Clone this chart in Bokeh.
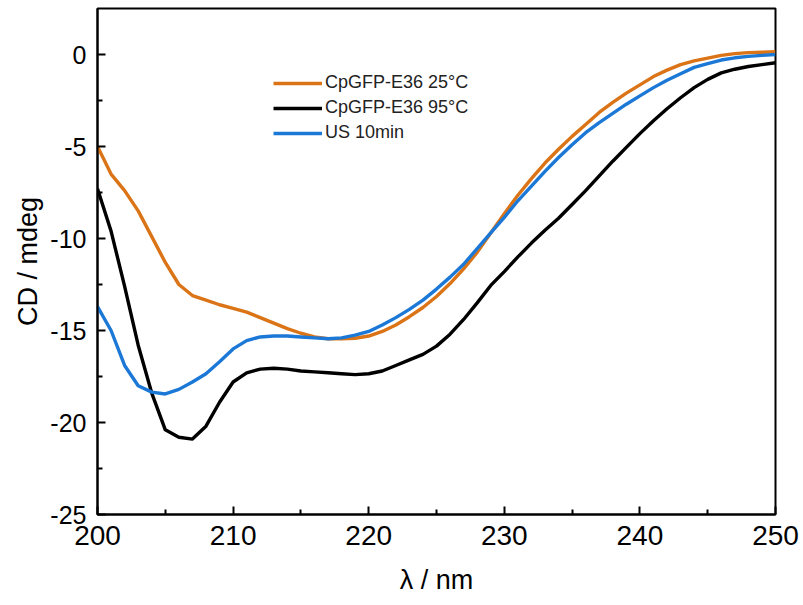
from bokeh.plotting import figure
from bokeh.models import Range1d, Legend, LegendItem, FixedTicker, PrintfTickFormatter
from bokeh.embed import file_html
from bokeh.resources import INLINE

wavelength = list(range(200, 251))

cd_25c = [-5.0, -6.5, -7.4, -8.5, -9.9, -11.3, -12.5, -13.1, -13.35, -13.6,
          -13.8, -14.0, -14.3, -14.6, -14.9, -15.15, -15.35, -15.45, -15.45, -15.42,
          -15.3, -15.05, -14.7, -14.25, -13.75, -13.15, -12.45, -11.65, -10.75, -9.7,
          -8.65, -7.65, -6.75, -5.9, -5.15, -4.45, -3.8, -3.15, -2.6, -2.1,
          -1.65, -1.2, -0.85, -0.55, -0.35, -0.2, -0.05, 0.05, 0.1, 0.12, 0.15]

cd_95c = [-7.3, -9.6, -12.6, -15.8, -18.4, -20.4, -20.8, -20.9, -20.2, -18.9,
          -17.8, -17.3, -17.1, -17.05, -17.1, -17.2, -17.25, -17.3, -17.35, -17.4,
          -17.35, -17.2, -16.9, -16.6, -16.3, -15.85, -15.2, -14.4, -13.5, -12.55,
          -11.8, -11.0, -10.25, -9.55, -8.9, -8.15, -7.4, -6.6, -5.8, -5.05,
          -4.3, -3.6, -2.95, -2.35, -1.8, -1.35, -1.0, -0.8, -0.65, -0.55, -0.45]

cd_us10 = [-13.7, -15.0, -16.9, -18.0, -18.35, -18.45, -18.2, -17.8, -17.35, -16.7,
           -16.0, -15.55, -15.35, -15.3, -15.3, -15.35, -15.4, -15.45, -15.4, -15.25,
           -15.05, -14.7, -14.3, -13.85, -13.35, -12.75, -12.1, -11.4, -10.55, -9.7,
           -8.85, -7.95, -7.15, -6.35, -5.6, -4.9, -4.25, -3.7, -3.2, -2.7,
           -2.25, -1.8, -1.4, -1.05, -0.7, -0.5, -0.3, -0.18, -0.1, -0.05, 0.0]

series_names = ["CpGFP-E36 25\u00b0C", "CpGFP-E36 95\u00b0C", "US 10min"]
series_colors = ["#DA7417", "#000000", "#1C78D6"]

x_ticks = [200, 210, 220, 230, 240, 250]
y_ticks = [0, -5, -10, -15, -20, -25]

FONT = "Liberation Sans"

p = figure(width=803, height=605, output_backend="svg", toolbar_location=None,
           x_range=Range1d(200, 250), y_range=Range1d(-25, 2.5),
           min_border_left=97, min_border_right=28, min_border_top=8, min_border_bottom=91)

renderers = []
for ys, c in zip([cd_25c, cd_95c, cd_us10], series_colors):
    r = p.line(wavelength, ys, line_color=c, line_width=3.4, line_join="round")
    renderers.append(r)

p.xgrid.visible = False
p.ygrid.visible = False
p.outline_line_color = "black"
p.outline_line_width = 2
p.background_fill_color = "white"
p.border_fill_color = "white"

for ax in (p.xaxis[0], p.yaxis[0]):
    ax.axis_line_width = 2
    ax.axis_line_color = "black"
    ax.major_tick_in = 8
    ax.major_tick_out = 0
    ax.minor_tick_in = 5
    ax.minor_tick_out = 0
    ax.major_tick_line_width = 2
    ax.minor_tick_line_width = 2
    ax.major_label_text_font = FONT
    ax.major_label_text_color = "black"
    ax.axis_label_text_font = FONT
    ax.axis_label_text_font_style = "normal"
    ax.axis_label_text_color = "black"
    ax.formatter = PrintfTickFormatter(format="%d")

p.xaxis[0].ticker = FixedTicker(ticks=x_ticks, minor_ticks=[205, 215, 225, 235, 245])
p.yaxis[0].ticker = FixedTicker(ticks=y_ticks, minor_ticks=[-2.5, -7.5, -12.5, -17.5, -22.5])
p.xaxis[0].major_label_text_font_size = "28px"
p.yaxis[0].major_label_text_font_size = "25px"
p.xaxis[0].major_label_standoff = 11
p.yaxis[0].major_label_standoff = 11
p.xaxis[0].axis_label = "\u03bb / nm"
p.yaxis[0].axis_label = "CD / mdeg"
p.xaxis[0].axis_label_text_font_size = "27px"
p.yaxis[0].axis_label_text_font_size = "27px"
p.xaxis[0].axis_label_standoff = 17
p.yaxis[0].axis_label_standoff = 4

items = [LegendItem(label=n, renderers=[r]) for n, r in zip(series_names, renderers)]
legend = Legend(items=items, location=(176, 371), padding=0, margin=0,
                border_line_color=None, background_fill_alpha=0,
                glyph_width=49, glyph_height=20, label_height=20, spacing=4,
                label_standoff=3, label_text_font=FONT, label_text_font_size="18px",
                label_text_color="#222222")
p.add_layout(legend, "center")

open("out.html", "w").write(file_html(p, INLINE))
